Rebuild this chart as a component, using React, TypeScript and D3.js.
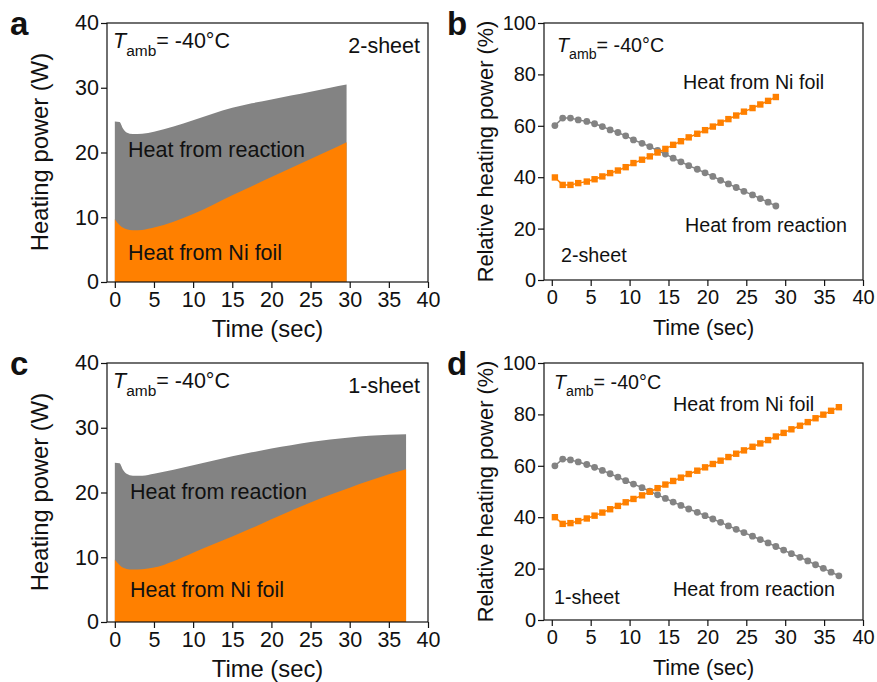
import React, { useEffect, useRef } from "react";
import * as d3 from "d3";

const FONT = "'Liberation Sans', Arial, Helvetica, sans-serif";
const ORANGE = "#ff8000";
const GRAY = "#838383";
const INK = "#111";

// panels a / c : absolute heating power (W)
const timeA = [0, 0.6, 1.0, 1.5, 2.3, 3.5, 5, 7.5, 10, 12.5, 15, 17.5, 20, 22.5, 25, 27.5, 29.6];
const totalA = [24.8, 24.7, 23.8, 23.1, 22.85, 22.9, 23.2, 24.0, 25.0, 26.0, 26.9, 27.6, 28.2, 28.8, 29.4, 30.0, 30.5];
const niA = [9.7, 8.8, 8.4, 8.15, 8.0, 8.05, 8.4, 9.3, 10.5, 11.9, 13.4, 14.8, 16.2, 17.6, 19.0, 20.4, 21.6];

const timeC = [0, 0.6, 1.0, 1.5, 2.3, 3.5, 5, 7.5, 10, 12.5, 15, 17.5, 20, 22.5, 25, 27.5, 30, 32.5, 35, 37.2];
const totalC = [24.6, 24.5, 23.6, 22.9, 22.6, 22.6, 22.9, 23.5, 24.2, 24.9, 25.6, 26.2, 26.8, 27.3, 27.8, 28.2, 28.5, 28.75, 28.9, 29.0];
const niC = [9.6, 8.8, 8.4, 8.2, 8.1, 8.15, 8.4, 9.4, 10.7, 11.95, 13.2, 14.5, 15.85, 17.2, 18.45, 19.65, 20.75, 21.8, 22.8, 23.6];

// panels b / d : relative heating power (%)
const timeB = [0.4, 1.4, 2.4, 3.4, 4.5, 5.5, 6.5, 7.5, 8.5, 9.5, 10.5, 11.6, 12.6, 13.6, 14.6, 15.6, 16.6, 17.6, 18.7, 19.7, 20.7, 21.7, 22.7, 23.7, 24.7, 25.8, 26.8, 27.8, 28.8];
const reactionB = [60.1, 63.0, 63.0, 62.3, 61.7, 60.8, 59.7, 58.4, 57.4, 56.1, 54.5, 53.2, 51.9, 50.4, 49.0, 47.4, 46.0, 44.5, 43.1, 41.7, 40.3, 38.8, 37.4, 36.0, 34.5, 33.1, 31.7, 30.3, 28.8];
const niB = [39.9, 37.0, 37.0, 37.7, 38.3, 39.2, 40.3, 41.6, 42.6, 43.9, 45.5, 46.8, 48.1, 49.6, 51.0, 52.6, 54.0, 55.5, 56.9, 58.3, 59.7, 61.2, 62.6, 64.0, 65.5, 66.9, 68.3, 69.7, 71.2];

const timeD = [0.4, 1.4, 2.4, 3.4, 4.5, 5.5, 6.5, 7.5, 8.5, 9.5, 10.5, 11.6, 12.6, 13.6, 14.6, 15.6, 16.6, 17.6, 18.7, 19.7, 20.7, 21.7, 22.7, 23.7, 24.7, 25.8, 26.8, 27.8, 28.8, 29.8, 30.8, 31.9, 32.9, 33.9, 34.9, 35.9, 36.9];
const reactionD = [60.0, 62.6, 62.3, 61.5, 60.5, 59.4, 58.2, 56.9, 55.6, 54.2, 52.9, 51.5, 50.1, 48.7, 47.3, 45.9, 44.6, 43.2, 41.9, 40.6, 39.3, 38.0, 36.6, 35.3, 34.0, 32.6, 31.3, 30.0, 28.6, 27.2, 25.8, 24.4, 23.0, 21.5, 20.1, 18.6, 17.2];
const niD = [40.0, 37.4, 37.7, 38.5, 39.5, 40.6, 41.8, 43.1, 44.4, 45.8, 47.1, 48.5, 49.9, 51.3, 52.7, 54.1, 55.4, 56.8, 58.1, 59.4, 60.7, 62.0, 63.4, 64.7, 66.0, 67.4, 68.7, 70.0, 71.4, 72.8, 74.2, 75.6, 77.0, 78.5, 79.9, 81.4, 82.8];

const xTicks = [0, 5, 10, 15, 20, 25, 30, 35, 40];
const powerTicks = [0, 10, 20, 30, 40];
const relTicks = [0, 20, 40, 60, 80, 100];

function Axes({ x, y, yTicks, fontSize }) {
  const gx = useRef(null);
  const gy = useRef(null);
  useEffect(() => {
    const ax = d3.select(gx.current);
    ax.call(d3.axisBottom(x).tickValues(xTicks).tickSize(6).tickSizeOuter(0).tickPadding(4));
    ax.select(".domain").remove();
    ax.attr("font-size", fontSize).attr("font-family", FONT);
    ax.selectAll("line").attr("stroke", INK).attr("stroke-width", 1.2);
    ax.selectAll("text").attr("fill", INK);

    const ay = d3.select(gy.current);
    ay.call(d3.axisLeft(y).tickValues(yTicks).tickSize(6).tickSizeOuter(0).tickPadding(2));
    ay.select(".domain").remove();
    ay.attr("font-size", fontSize).attr("font-family", FONT);
    ay.selectAll("line").attr("stroke", INK).attr("stroke-width", 1.2);
    ay.selectAll("text").attr("fill", INK);
  }, [x, y, yTicks, fontSize]);
  const [x0, x1] = x.range();
  const [y0, y1] = y.range();
  return (
    <g>
      <g ref={gx} transform={`translate(0,${y0})`} />
      <g ref={gy} transform={`translate(${x0},0)`} />
      <rect x={x0} y={y1} width={x1 - x0} height={y0 - y1} fill="none" stroke={INK} strokeWidth={1.2} />
    </g>
  );
}

function Tamb({ x, y, size }) {
  return (
    <text x={x} y={y} fontSize={size}>
      <tspan fontStyle="italic">T</tspan>
      <tspan fontSize={size * 0.72} dy={size * 0.37}>amb</tspan>
      <tspan dy={-size * 0.37}>= -40°C</tspan>
    </text>
  );
}

function PowerPanel({ top, time, total, ni, letter, sheet, labels }) {
  const x = d3.scaleLinear().domain([-1, 40]).range([107, 428]);
  const y = d3.scaleLinear().domain([0, 40]).range([top + 259, top]);
  const rows = time.map((t, i) => ({ t, total: total[i], ni: ni[i] }));
  const grayArea = d3.area().x((d) => x(d.t)).y0(y(0)).y1((d) => y(d.total)).curve(d3.curveMonotoneX);
  const orangeArea = d3.area().x((d) => x(d.t)).y0(y(0)).y1((d) => y(d.ni)).curve(d3.curveMonotoneX);
  return (
    <g>
      <path d={grayArea(rows)} fill={GRAY} />
      <path d={orangeArea(rows)} fill={ORANGE} />
      <Axes x={x} y={y} yTicks={powerTicks} fontSize={21.5} />
      <text x={10} y={top + 12} fontSize={33} fontWeight="bold">{letter}</text>
      <Tamb x={113} y={top + 25} size={21.5} />
      <text x={420} y={top + 30} fontSize={21.5} textAnchor="end">{sheet}</text>
      <text x={labels.x} y={labels.reaction} fontSize={21.5}>Heat from reaction</text>
      <text x={labels.x} y={labels.ni} fontSize={21.5}>Heat from Ni foil</text>
      <text transform={`translate(48,${top + 129}) rotate(-90)`} fontSize={23.8} textAnchor="middle">Heating power (W)</text>
      <text x={267.5} y={top + 314} fontSize={23.8} textAnchor="middle">Time (sec)</text>
    </g>
  );
}

function RelativePanel({ top, time, reaction, ni, letter, sheet, labels }) {
  const x = d3.scaleLinear().domain([-1, 40]).range([544, 863]);
  const y = d3.scaleLinear().domain([0, 100]).range([top + 257, top]);
  const line = d3.line().x((d) => x(d[0])).y((d) => y(d[1]));
  const rxn = time.map((t, i) => [t, reaction[i]]);
  const nif = time.map((t, i) => [t, ni[i]]);
  return (
    <g>
      <path d={line(rxn)} fill="none" stroke={GRAY} strokeWidth={1.5} />
      <path d={line(nif)} fill="none" stroke={ORANGE} strokeWidth={1.5} />
      {rxn.map((d, i) => (
        <circle key={"r" + i} cx={x(d[0])} cy={y(d[1])} r={3.4} fill={GRAY} />
      ))}
      {nif.map((d, i) => (
        <rect key={"n" + i} x={x(d[0]) - 3.2} y={y(d[1]) - 3.2} width={6.4} height={6.4} fill={ORANGE} />
      ))}
      <Axes x={x} y={y} yTicks={relTicks} fontSize={20} />
      <text x={447} y={top + 12} fontSize={33} fontWeight="bold">{letter}</text>
      <Tamb x={labels.tx} y={labels.ty} size={19.7} />
      <text x={labels.niX} y={labels.niY} fontSize={19.7}>Heat from Ni foil</text>
      <text x={labels.rX} y={labels.rY} fontSize={19.7}>Heat from reaction</text>
      <text x={labels.sX} y={labels.sY} fontSize={19.7}>{sheet}</text>
      <text transform={`translate(493,${top + 128.5}) rotate(-90)`} fontSize={21.8} textAnchor="middle">Relative heating power (%)</text>
      <text x={703.5} y={top + 312} fontSize={21.6} textAnchor="middle">Time (sec)</text>
    </g>
  );
}

export default function App() {
  return (
    <svg
      width={877}
      height={682}
      style={{ position: "absolute", left: 0, top: 0, background: "#fff" }}
      fontFamily={FONT}
      fill={INK}
    >
      <PowerPanel top={23} time={timeA} total={totalA} ni={niA} letter="a" sheet="2-sheet"
        labels={{ x: 128, reaction: 157, ni: 260 }} />
      <RelativePanel top={23} time={timeB} reaction={reactionB} ni={niB} letter="b" sheet="2-sheet"
        labels={{ tx: 557, ty: 52, niX: 683, niY: 89, rX: 685, rY: 232, sX: 561, sY: 262 }} />
      <PowerPanel top={363} time={timeC} total={totalC} ni={niC} letter="c" sheet="1-sheet"
        labels={{ x: 130, reaction: 499, ni: 597 }} />
      <RelativePanel top={363} time={timeD} reaction={reactionD} ni={niD} letter="d" sheet="1-sheet"
        labels={{ tx: 554, ty: 389, niX: 673, niY: 411, rX: 673, rY: 596, sX: 554, sY: 604 }} />
    </svg>
  );
}
